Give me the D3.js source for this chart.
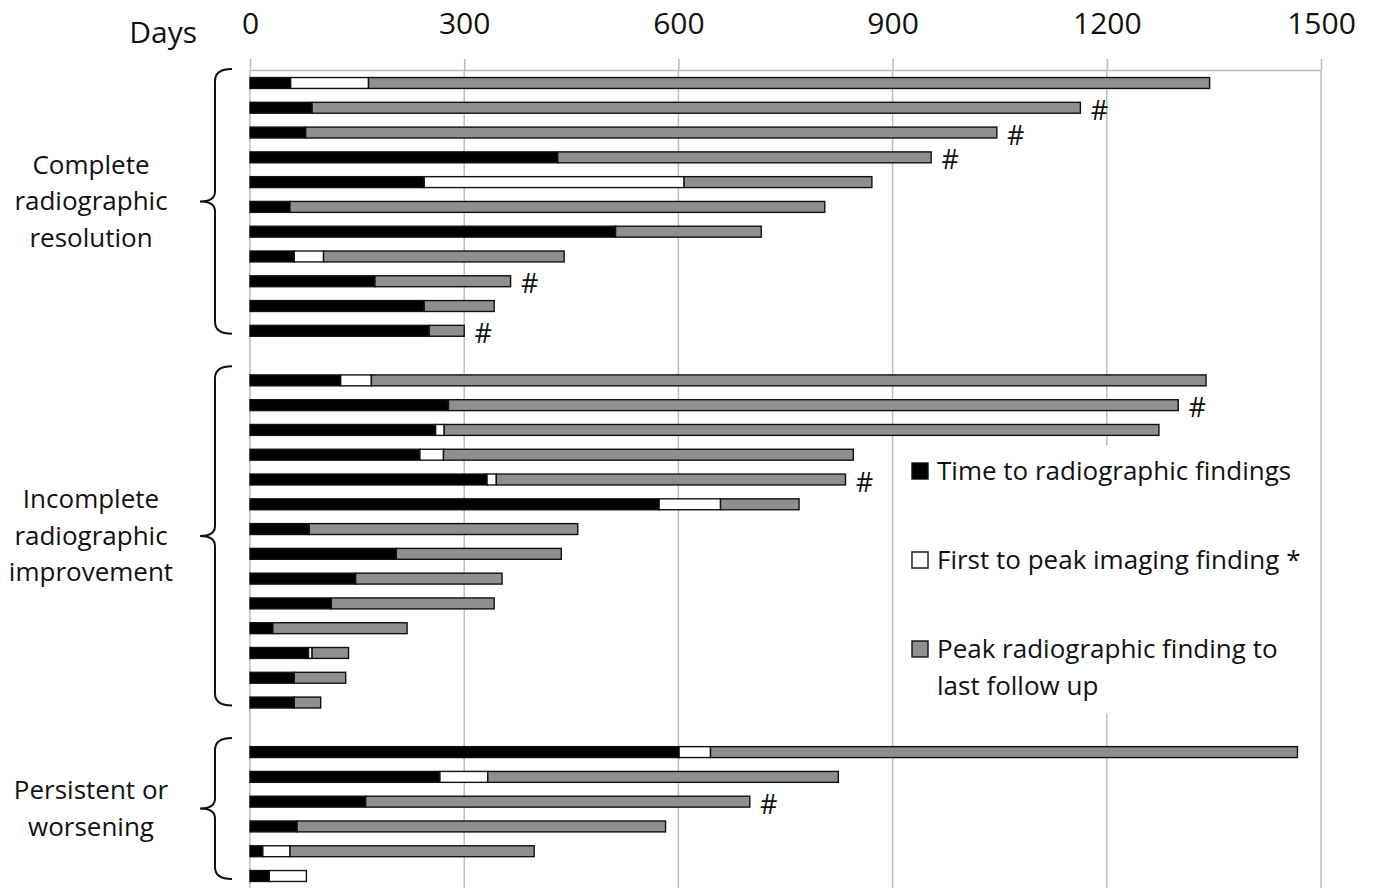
<!DOCTYPE html>
<html>
<head>
<meta charset="utf-8">
<script src="https://cdn.jsdelivr.net/npm/d3@7/dist/d3.min.js"></script>
<style>
  body { margin: 0; background: #fff; }
  svg { display: block; font-family: "Open Sans", sans-serif; }
</style>
</head>
<body>
<svg id="chart" width="1374" height="888"></svg>
<script>
// group names, one line of text per entry
var groupLines = [
  ["Complete", "radiographic", "resolution"],
  ["Incomplete", "radiographic", "improvement"],
  ["Persistent or", "worsening"]
];
// which group each bar belongs to (top to bottom)
var groupOf = [0,0,0,0,0,0,0,0,0,0,0,
               1,1,1,1,1,1,1,1,1,1,1,1,1,1,
               2,2,2,2,2,2];
// segment lengths in days
var timeToFindings = [57,87,78,431,244,56,512,62,175,244,251,
                      127,278,260,238,332,573,83,205,148,114,32,82,62,62,
                      601,266,162,66,18,27];
var firstToPeak    = [109,0,0,0,364,0,0,41,0,0,0,
                      43,0,12,33,13,86,0,0,0,0,0,5,0,0,
                      44,67,0,0,38,52];
var peakToFollowUp = [1178,1076,968,523,263,749,204,337,190,98,49,
                      1169,1022,1001,574,489,110,376,231,205,228,188,51,72,37,
                      822,491,538,516,342,0];
// bars marked with #
var hashMark = [0,1,1,1,0,0,0,0,1,0,1,
                0,1,0,0,1,0,0,0,0,0,0,0,0,0,
                0,0,1,0,0,0];
var tickValues = [0, 300, 600, 900, 1200, 1500];
var seriesNames = ["Time to radiographic findings", "First to peak imaging finding *", "Peak radiographic finding to\nlast follow up"];
var seriesKeys = ["black", "white", "gray"];
var colors = {black: "#000000", white: "#ffffff", gray: "#8f8f8f"};

var svg = d3.select("#chart");

// rows with an empty slot between groups
var rows = timeToFindings.map(function (d, i) {
    return {black: d, white: firstToPeak[i], gray: peakToFollowUp[i], group: groupOf[i], hash: hashMark[i]};
});
rows.forEach(function (r, i) { r.slot = i + r.group; });

var x = d3.scaleLinear().domain([0, 1500]).range([250, 1321]);
var y = d3.scaleBand().domain(d3.range(rows.length + groupLines.length - 1))
    .range([70.6, 888.4]).paddingInner(0.56).paddingOuter(0.28);
var yc = function (slot) { return y(slot) + y.bandwidth() / 2; };
var axisY = 70;

// gridlines
svg.append("g").selectAll("line").data(tickValues).enter().append("line")
    .attr("x1", d => x(d)).attr("x2", d => x(d))
    .attr("y1", axisY).attr("y2", 888)
    .attr("stroke", "#bdbdbd").attr("stroke-width", 1.5);

var axis = svg.append("g").attr("transform", "translate(0," + axisY + ")")
    .call(d3.axisTop(x).tickValues(tickValues).tickFormat(d3.format("d"))
        .tickSize(11).tickSizeOuter(0).tickPadding(25));
axis.select(".domain").attr("stroke", "#bdbdbd").attr("stroke-width", 1.5);
axis.selectAll(".tick line").attr("stroke", "#bdbdbd").attr("stroke-width", 1.5);
axis.selectAll(".tick text").attr("font-size", 30).attr("font-family", "Open Sans").attr("fill", "#111");

svg.append("text").attr("x", 197).attr("y", 43).attr("text-anchor", "end")
    .attr("font-size", 30).attr("fill", "#111").text("Days");

// stacked bars
var stacked = d3.stack().keys(seriesKeys)(rows);
stacked.forEach(function (layer) {
    svg.append("g").selectAll("rect")
        .data(layer.filter(d => d[1] - d[0] > 0))
        .enter().append("rect")
        .attr("x", d => x(d[0]))
        .attr("width", d => x(d[1]) - x(d[0]))
        .attr("y", d => y(d.data.slot))
        .attr("height", y.bandwidth())
        .attr("fill", colors[layer.key])
        .attr("stroke", "#111")
        .attr("stroke-width", 1.4);
});

// # marks
svg.append("g").selectAll("text").data(rows.filter(r => r.hash)).enter().append("text")
    .attr("x", d => x(d.black + d.white + d.gray) + 19)
    .attr("y", d => yc(d.slot) + 12)
    .attr("text-anchor", "middle")
    .attr("font-size", 27).attr("fill", "#111")
    .text("#");

// group braces and labels
groupLines.forEach(function (lines, g) {
    var slots = rows.filter(r => r.group === g).map(r => r.slot);
    var top = yc(d3.min(slots)) - 14, bottom = yc(d3.max(slots)) + 3;
    var mid = (top + bottom) / 2;
    var xl = 215, xr = 232, xt = 200;
    var p = d3.path();
    p.moveTo(xr, top);
    p.quadraticCurveTo(xl, top, xl, top + 12);
    p.lineTo(xl, mid - 10);
    p.quadraticCurveTo(xl, mid, xt, mid);
    p.quadraticCurveTo(xl, mid, xl, mid + 10);
    p.lineTo(xl, bottom - 12);
    p.quadraticCurveTo(xl, bottom, xr, bottom);
    svg.append("path").attr("d", p.toString())
        .attr("fill", "none").attr("stroke", "#111").attr("stroke-width", 2);

    var lh = 36.5;
    svg.append("g").selectAll("text").data(lines).enter().append("text")
        .attr("x", 91)
        .attr("y", (d, i) => mid + (i - (lines.length - 1) / 2) * lh + 9)
        .attr("text-anchor", "middle")
        .attr("font-size", 26).attr("fill", "#111")
        .text(d => d);
});

// legend
var legend = svg.append("g");
legend.append("rect").attr("x", 897).attr("y", 445).attr("width", 418).attr("height", 268).attr("fill", "#fff");
var legendY = [471, 560, 649];
seriesNames.forEach(function (name, i) {
    legend.append("rect")
        .attr("x", 912).attr("y", legendY[i] - 8).attr("width", 16).attr("height", 16)
        .attr("fill", colors[seriesKeys[i]]).attr("stroke", "#111").attr("stroke-width", 1.4);
    var t = legend.append("text").attr("x", 937).attr("y", legendY[i] + 9)
        .attr("font-size", 26).attr("fill", "#111");
    name.split("\n").forEach(function (line, j) {
        t.append("tspan").attr("x", 937).attr("dy", j ? 37 : 0).text(line);
    });
});
</script>
</body>
</html>
